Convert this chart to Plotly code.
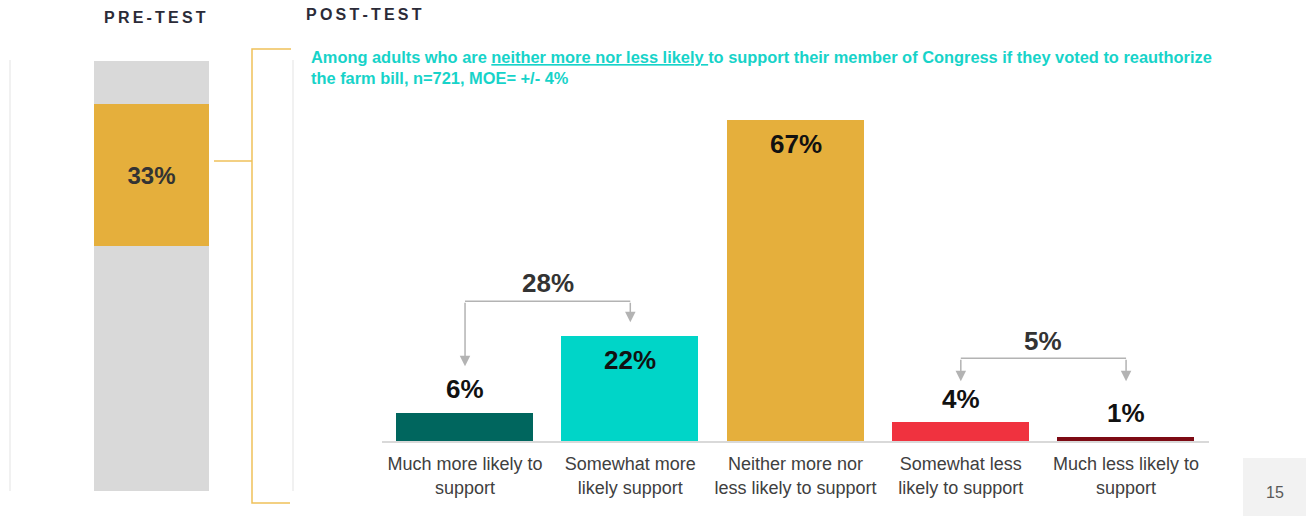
import plotly.graph_objects as go

# ---- data ----
categories = [
    "Much more likely to<br>support",
    "Somewhat more<br>likely support",
    "Neither more nor<br>less likely to support",
    "Somewhat less<br>likely to support",
    "Much less likely to<br>support",
]
post_values = [6, 22, 67, 4, 1]
post_colors = ["#00665E", "#00D5C8", "#E5AF3C", "#F0323F", "#7D0A14"]
label_inside = [False, True, True, False, False]

pre_parts = ["below", "value", "above"]
pre_values = [57, 33, 10]
pre_colors = ["#D9D9D9", "#E5AF3C", "#D9D9D9"]

bracket_labels = ["28%", "5%"]
bracket_pairs = [(0, 1), (3, 4)]

subtitle = ("Among adults who are <u>neither more nor less likely </u>to support their member of "
            "Congress if they voted to reauthorize<br>the farm bill, n=721, MOE= +/- 4%")

W, H = 1315, 516
FONT = "Liberation Sans, Arial, sans-serif"
TEXT = "#262626"


def px(x):
    return x / W


def py(y):
    return 1 - y / H


fig = go.Figure()

# post-test bars
fig.add_trace(go.Bar(
    x=list(range(len(categories))), y=post_values,
    marker=dict(color=post_colors, line=dict(width=0)),
    width=0.83, xaxis="x", yaxis="y", hoverinfo="skip",
))

# pre-test stacked column
for name, v, c in zip(pre_parts, pre_values, pre_colors):
    fig.add_trace(go.Bar(
        x=[0], y=[v], name=name, xaxis="x2", yaxis="y2", width=1,
        marker=dict(color=c, line=dict(width=0)),
        text=[f"{v}%" if name == "value" else ""], textposition="inside",
        insidetextanchor="middle",
        textfont=dict(family=FONT, size=24, color="#333333", weight="bold"),
        hoverinfo="skip",
    ))

annotations = []
# value labels on post-test bars
for i, v in enumerate(post_values):
    annotations.append(dict(
        x=i, y=v, xref="x", yref="y", text=f"<b>{v}%</b>", showarrow=False,
        yanchor="middle", yshift=-24 if label_inside[i] else 23,
        font=dict(family=FONT, size=26, color="#111111"),
    ))

# brackets grouping neighbouring bars
bracket_geo = [  # (line level, left tip, right tip, label level) in axis units
    (29.2, 15.6, 24.8, 33.0),
    (17.3, 12.5, 12.5, 20.9),
]
shapes = []
for (a, b), lab, (lvl, tl, tr, ll) in zip(bracket_pairs, bracket_labels, bracket_geo):
    shapes.append(dict(type="line", xref="x", yref="y", x0=a, x1=b, y0=lvl, y1=lvl,
                       line=dict(color="#B3B3B3", width=1.5)))
    for xx, tip in ((a, tl), (b, tr)):
        annotations.append(dict(
            x=xx, y=tip, ax=xx, ay=lvl, xref="x", yref="y", axref="x", ayref="y",
            text="", showarrow=True, arrowhead=2, arrowsize=1.4, arrowwidth=1.5,
            arrowcolor="#B3B3B3", standoff=0,
        ))
    annotations.append(dict(
        x=(a + b) / 2, y=ll, xref="x", yref="y", text=f"<b>{lab}</b>", showarrow=False,
        yanchor="middle", font=dict(family=FONT, size=26, color="#333333"),
    ))

# headings and subtitle
annotations += [
    dict(x=px(155), y=py(18), xref="paper", yref="paper", showarrow=False,
         xanchor="center", yanchor="middle",
         text="<b>" + "\u2009".join("PRE-TEST") + "</b>",
         font=dict(family=FONT, size=16, color="#2B2B38")),
    dict(x=px(304), y=py(14), xref="paper", yref="paper", showarrow=False,
         xanchor="left", yanchor="middle",
         text="<b>" + "\u2009".join("POST-TEST") + "</b>",
         font=dict(family=FONT, size=16, color="#2B2B38")),
    dict(x=px(309), y=py(46), xref="paper", yref="paper", showarrow=False,
         xanchor="left", yanchor="top", align="left", text="<b>" + subtitle + "</b>",
         font=dict(family=FONT, size=16.4, color="#17D3C9")),
    dict(x=px(1275), y=py(492), xref="paper", yref="paper", showarrow=False,
         xanchor="center", yanchor="middle",
         text="15", font=dict(family=FONT, size=16, color="#595959")),
]

gold = "#EFC15A"
shapes += [
    # faint frame lines
    dict(type="line", xref="paper", yref="paper", x0=px(10), x1=px(10), y0=py(60), y1=py(491),
         line=dict(color="#EDEDED", width=1.5)),
    dict(type="line", xref="paper", yref="paper", x0=px(293), x1=px(293), y0=py(60), y1=py(491),
         line=dict(color="#EDEDED", width=1.5)),
    # gold connector bracket
    dict(type="line", xref="paper", yref="paper", x0=px(214), x1=px(252), y0=py(161), y1=py(161),
         line=dict(color=gold, width=1.5)),
    dict(type="path", xref="paper", yref="paper",
         path=f"M {px(291)},{py(49)} L {px(252)},{py(49)} L {px(252)},{py(503)} L {px(290)},{py(503)}",
         line=dict(color=gold, width=1.5)),
    # page number box
    dict(type="rect", xref="paper", yref="paper", x0=px(1243), x1=px(1306), y0=py(458), y1=py(516),
         fillcolor="#F2F2F2", line=dict(width=0), layer="below"),
]

fig.update_layout(
    width=W, height=H, margin=dict(l=0, r=0, t=0, b=0),
    paper_bgcolor="white", plot_bgcolor="rgba(0,0,0,0)",
    showlegend=False, barmode="stack", bargap=0,
    font=dict(family=FONT, color=TEXT),
    annotations=annotations, shapes=shapes,
    xaxis=dict(domain=[px(382.4), px(1208.7)], range=[-0.5, 4.5],
               tickmode="array", tickvals=list(range(len(categories))), ticktext=categories,
               tickfont=dict(family=FONT, size=18, color="#404040"), ticklabelstandoff=6,
               showline=True, linecolor="#D9D9D9", linewidth=1.5, showgrid=False,
               zeroline=False, ticks="", fixedrange=True),
    yaxis=dict(domain=[py(441), py(105.7)], range=[0, 70], visible=False, fixedrange=True),
    xaxis2=dict(domain=[px(94), px(209)], range=[-0.5, 0.5], visible=False, anchor="y2",
                fixedrange=True),
    yaxis2=dict(domain=[py(491), py(61)], range=[0, 100], visible=False, anchor="x2",
                fixedrange=True),
)

fig.write_html("out.html", config={"displayModeBar": False},
               post_script="document.body.style.margin = '0';")
